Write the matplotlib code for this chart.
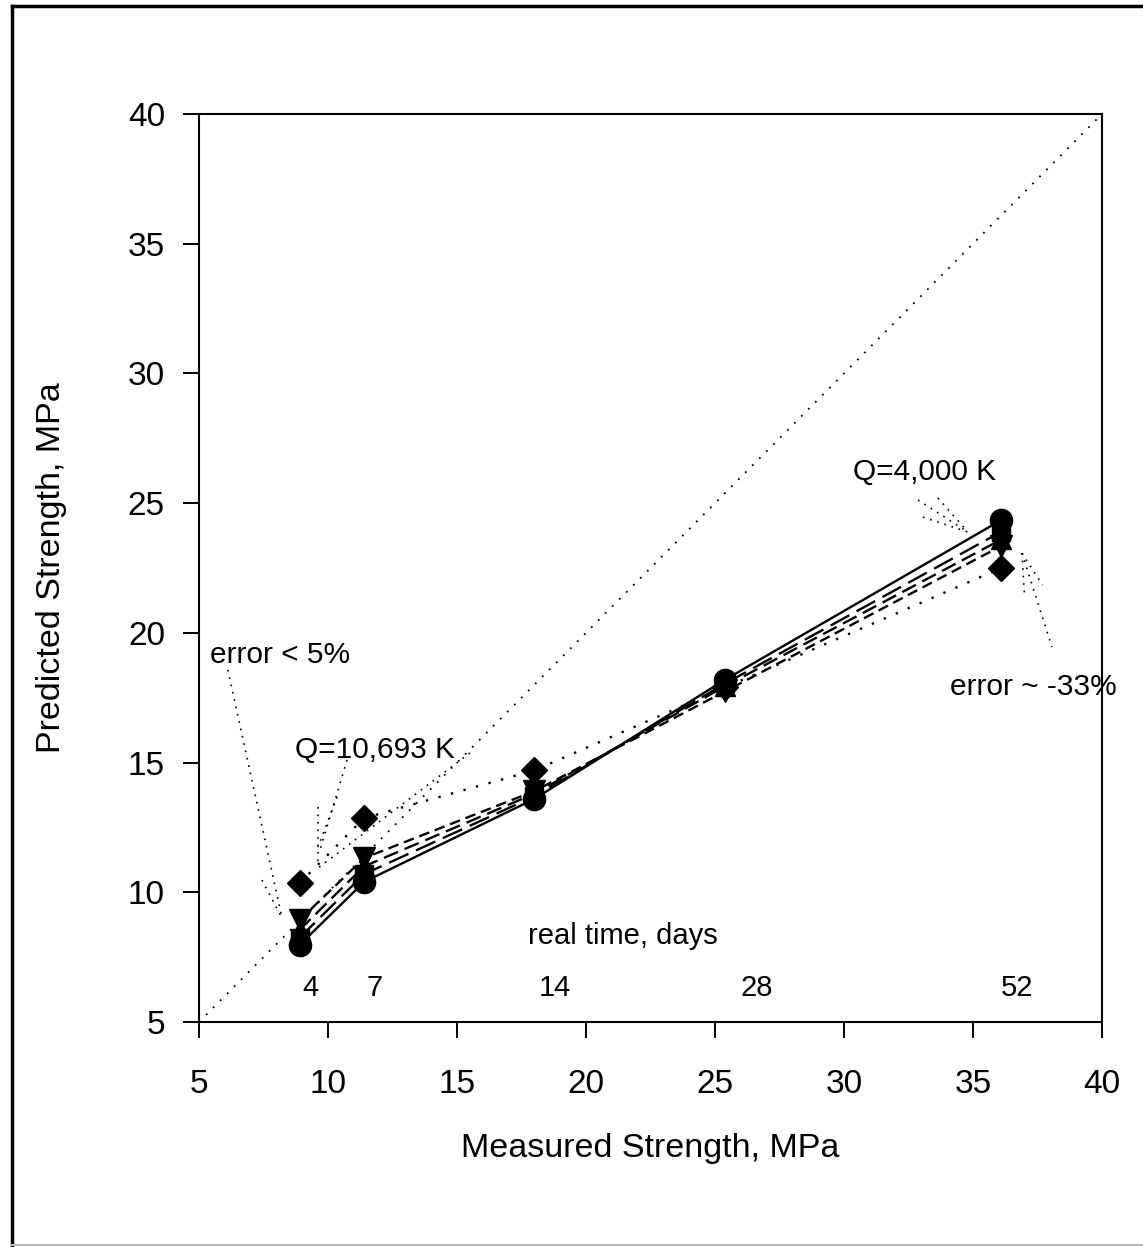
import matplotlib
matplotlib.use("Agg")
import matplotlib.pyplot as plt
from matplotlib.lines import Line2D

plt.rcParams['font.family'] = ['Liberation Sans', 'DejaVu Sans']

# ---- data ----
measured = [8.9, 11.4, 18.0, 25.4, 36.1]
days = ["4", "7", "14", "28", "52"]
day_label_x = [9.3, 11.8, 18.8, 26.6, 36.7]
day_label_y = 6.3

pred_circle = [7.97, 10.4, 13.6, 18.2, 24.35]
pred_square = [8.25, 10.7, 13.7, 18.05, 23.9]
pred_tri_up = [8.55, 11.0, 13.8, 17.95, 23.6]
pred_tri_dn = [8.93, 11.32, 13.9, 17.75, 23.35]
pred_diamond = [10.35, 12.86, 14.7, 17.9, 22.5]

diag = [5, 40]

fig = plt.figure(figsize=(11.43, 12.47), dpi=100)
ax = fig.add_axes([199/1143, 1 - 1022/1247, (1102-199)/1143, (1022-114)/1247])

# y = x reference line
ax.plot(diag, diag, color='black', lw=1.3, linestyle=(0, (1, 4.5)), zorder=1)

series = [
    (pred_circle, 'o', '-', 16),
    (pred_square, 's', (0, (9, 3.5)), 13),
    (pred_tri_up, '^', (0, (6.5, 3)), 14),
    (pred_tri_dn, 'v', (0, (4.5, 2.5)), 16),
    (pred_diamond, 'D', (0, (1, 4.5)), 13),
]
for vals, mk, ls, ms in series:
    ax.plot(measured, vals, color='black', lw=1.7, linestyle=ls,
            marker=mk, markersize=ms, markerfacecolor='black',
            markeredgecolor='black', zorder=3)

ax.set_xlim(5, 40)
ax.set_ylim(5, 40)
ax.set_xticks(range(5, 41, 5))
ax.set_yticks(range(5, 41, 5))
ax.tick_params(direction='out', length=11.5, width=1.4, labelsize=24)
ax.tick_params(axis='x', pad=22)
ax.tick_params(axis='y', pad=13)
for s in ax.spines.values():
    s.set_linewidth(1.5)

ax.set_xlabel("Measured Strength, MPa", fontsize=24.5, labelpad=24)
ax.set_ylabel("Predicted Strength, MPa", fontsize=24.5, labelpad=44)

# day labels
for xl, d in zip(day_label_x, days):
    ax.text(xl, day_label_y, d, fontsize=21, ha='center', va='center')
ax.text(21.43, 8.31, "real time, days", fontsize=21, ha='center', va='center')

# annotations
ax.text(5.43, 19.14, "error < 5%", fontsize=21.5, ha='left', va='center')
ax.text(8.72, 15.48, "Q=10,693 K", fontsize=21.5, ha='left', va='center')
ax.text(30.35, 26.2, "Q=4,000 K", fontsize=21.5, ha='left', va='center')
ax.text(34.1, 17.9, "error ~ -33%", fontsize=21.5, ha='left', va='center', clip_on=False)

leaders = [
    # error < 5%
    ((6.12, 18.57), (8.22, 9.0)),
    ((7.44, 10.47), (8.22, 9.0)),
    # Q=10,693 K
    ((10.74, 15.10), (9.69, 11.63)),
    ((9.61, 13.28), (9.61, 11.16)),
    ((15.50, 15.37), (9.61, 10.93)),
    ((10.35, 13.67), (9.61, 11.74)),
    # Q=4,000 K
    ((32.87, 25.12), (34.8, 23.89)),
    ((33.06, 24.46), (34.8, 23.89)),
    ((33.64, 25.2), (34.8, 23.89)),
    # error ~ -33%
    ((36.9, 23.07), (37.0, 21.34)),
    ((36.9, 23.07), (37.7, 21.84)),
    ((36.9, 23.07), (38.06, 19.45)),
]
for (x0, y0), (x1, y1) in leaders:
    ax.plot([x0, x1], [y0, y1], color='black', lw=1.2,
            linestyle=(0, (1, 3.5)), zorder=2)

# outer frame
fig.add_artist(Line2D([12/1143, 12/1143], [1 - 6/1247, 1 - 1245/1247],
                      transform=fig.transFigure, color='black', lw=2.5))
fig.add_artist(Line2D([12/1143, 1.0], [1 - 6/1247, 1 - 6/1247],
                      transform=fig.transFigure, color='black', lw=2.5))
fig.add_artist(Line2D([12/1143, 1.0], [1 - 1245/1247, 1 - 1245/1247],
                      transform=fig.transFigure, color='#bbbbbb', lw=1.5))

fig.savefig("out.png", dpi=100)
